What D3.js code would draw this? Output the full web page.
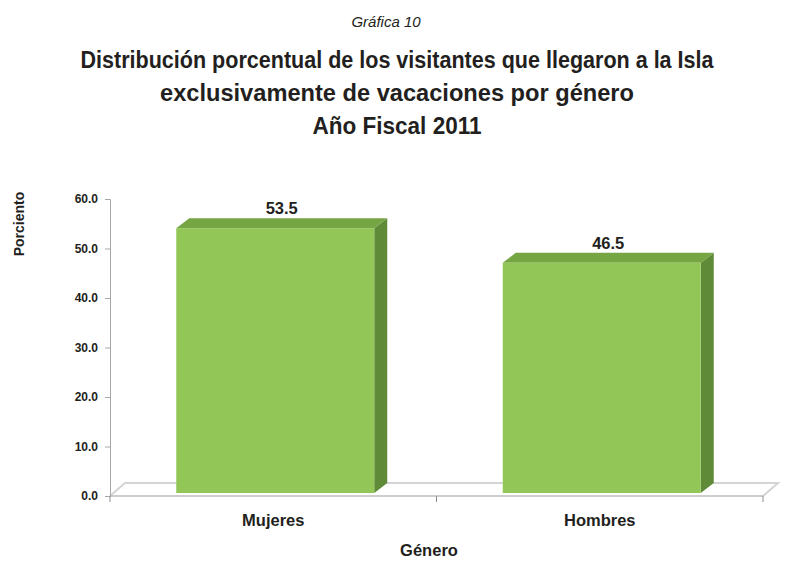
<!DOCTYPE html>
<html>
<head>
<meta charset="utf-8">
<script src="https://cdn.jsdelivr.net/npm/d3@7"></script>
<style>
  body { margin: 0; background: #fff; }
  svg { display: block; }
  text { font-family: "Liberation Sans", Arial, sans-serif; fill: #231f20; }
</style>
</head>
<body>
<svg width="796" height="578"></svg>
<script>
var categories = ["Mujeres", "Hombres"];
var values = [53.5, 46.5];
var yTicks = [0, 10, 20, 30, 40, 50, 60];
var subtitle = "Gráfica 10";
var titleLines = [
  "Distribución porcentual de los visitantes que llegaron a la Isla",
  "exclusivamente de vacaciones por género",
  "Año Fiscal 2011"
];
var xTitle = "Género";
var yTitle = "Porciento";

var svg = d3.select("svg");

// plot box (note: "top" is reserved on window, so plotTop)
var plotLeft = 110, plotRight = 763, plotBottom = 496, plotTop = 199;
var floorDx = 15, floorDy = 13;
var barDx = 13, barDy = 10;

var x = d3.scaleBand().domain(categories).range([plotLeft, plotRight]);
var y = d3.scaleLinear().domain([0, 60]).range([plotBottom, plotTop]);
// bars stand a little behind the front edge of the floor
var yBar = d3.scaleLinear().domain([0, 60]).range([plotBottom - 3, plotTop - 3]);
var barW = 198;

// header
svg.append("text").attr("x", 386).attr("y", 27).attr("text-anchor", "middle")
  .style("font-style", "italic").style("font-size", "15px").text(subtitle);

var titleLen = [633, 474, 169];
svg.selectAll(".title").data(titleLines).enter().append("text")
  .attr("class", "title")
  .attr("x", 397).attr("y", function(d, i) { return 68 + i * 33; })
  .attr("text-anchor", "middle")
  .attr("textLength", function(d, i) { return titleLen[i]; })
  .attr("lengthAdjust", "spacingAndGlyphs")
  .style("font-weight", "bold").style("font-size", "23px")
  .text(function(d) { return d; });

// floor
var floor = svg.append("g");
floor.append("path")
  .attr("d", "M" + plotLeft + "," + plotBottom + "L" + (plotLeft + floorDx) + "," + (plotBottom - floorDy) +
    "L" + (plotRight + floorDx) + "," + (plotBottom - floorDy) + "L" + plotRight + "," + plotBottom)
  .attr("fill", "none").attr("stroke", "#d4d4d4").attr("stroke-width", 2);
floor.append("line").attr("x1", plotLeft).attr("x2", plotRight).attr("y1", plotBottom).attr("y2", plotBottom)
  .attr("stroke", "#bdbdbd").attr("stroke-width", 1.5);

// y axis
var yAxis = d3.axisLeft(y).tickValues(yTicks).tickSize(5).tickPadding(7)
  .tickFormat(d3.format(".1f"));
var ya = svg.append("g").attr("transform", "translate(" + plotLeft + ",0)").call(yAxis);
ya.select(".domain").attr("stroke", "#a6a6a6");
ya.selectAll(".tick line").attr("stroke", "#a6a6a6");
ya.selectAll("text").style("font-size", "12px").style("font-weight", "bold")
  .attr("fill", "#231f20").style("font-family", "Liberation Sans, Arial, sans-serif");

// x axis ticks at band boundaries
var bounds = [plotLeft].concat(categories.map(function(c) { return x(c) + x.bandwidth(); }));
svg.selectAll(".xtick").data(bounds).enter().append("line")
  .attr("x1", function(d) { return d; }).attr("x2", function(d) { return d; })
  .attr("y1", plotBottom).attr("y2", plotBottom + 6)
  .attr("stroke", "#8c8c8c");

svg.selectAll(".xlab").data(categories).enter().append("text")
  .attr("x", function(d) { return x(d) + x.bandwidth() / 2; })
  .attr("y", 526).attr("text-anchor", "middle")
  .style("font-weight", "bold").style("font-size", "16.5px")
  .text(function(d) { return d; });

// bars
var bars = svg.selectAll(".bar").data(values).enter().append("g").attr("class", "bar");
function bx(d, i) { return x(categories[i]) + x.bandwidth() / 2 - barW / 2 + 2; }

bars.append("path") // side
  .attr("fill", "#5f8b38")
  .attr("d", function(d, i) {
    var x1 = bx(d, i) + barW, y0 = yBar(0), y1 = yBar(d);
    return "M" + x1 + "," + y0 + "L" + x1 + "," + y1 + "L" + (x1 + barDx) + "," + (y1 - barDy) +
      "L" + (x1 + barDx) + "," + (y0 - barDy) + "Z";
  });
bars.append("path") // top
  .attr("fill", "#76a544")
  .attr("d", function(d, i) {
    var x0 = bx(d, i), x1 = x0 + barW, y1 = yBar(d);
    return "M" + x0 + "," + y1 + "L" + (x0 + barDx) + "," + (y1 - barDy) +
      "L" + (x1 + barDx) + "," + (y1 - barDy) + "L" + x1 + "," + y1 + "Z";
  });
bars.append("rect") // front
  .attr("fill", "#92c758")
  .attr("x", bx).attr("width", barW)
  .attr("y", function(d) { return yBar(d); })
  .attr("height", function(d) { return yBar(0) - yBar(d); });

bars.append("text")
  .attr("x", function(d, i) { return bx(d, i) + barW / 2 + barDx / 2; })
  .attr("y", function(d) { return yBar(d) - 14; })
  .attr("text-anchor", "middle")
  .style("font-weight", "bold").style("font-size", "16.5px")
  .text(function(d) { return d3.format(".1f")(d); });

// axis titles
svg.append("text").attr("x", 429).attr("y", 556).attr("text-anchor", "middle")
  .style("font-weight", "bold").style("font-size", "16.5px").text(xTitle);
svg.append("text").attr("transform", "translate(24,224) rotate(-90)")
  .attr("text-anchor", "middle")
  .style("font-weight", "bold").style("font-size", "14px").text(yTitle);
</script>
</body>
</html>
